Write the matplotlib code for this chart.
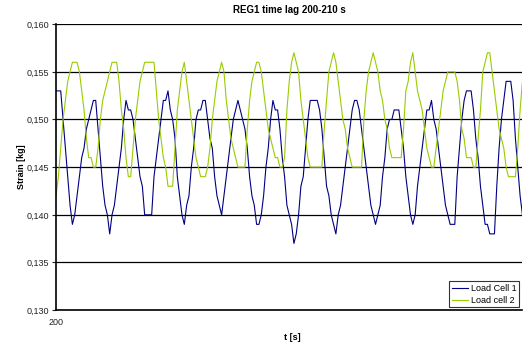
import numpy as np
import matplotlib
matplotlib.use('Agg')
import matplotlib.pyplot as plt
from matplotlib.ticker import FuncFormatter

plt.rcParams['font.family'] = ['Liberation Sans', 'DejaVu Sans']

# strain readings in thousandths of kg, sampled 200-210 s
cell1_g = [153, 153, 153, 150, 147, 144, 141, 139, 140, 142,
           144, 146, 147, 149, 150, 151, 152, 152, 149, 146,
           143, 141, 140, 138, 140, 141, 143, 145, 147, 150,
           152, 151, 151, 150, 148, 146, 144, 143, 140, 140,
           140, 140, 144, 146, 148, 150, 152, 152, 153, 151,
           150, 148, 144, 142, 140, 139, 141, 142, 145, 147,
           150, 151, 151, 152, 152, 150, 148, 147, 144, 142,
           141, 140, 142, 144, 146, 148, 150, 151, 152, 151,
           150, 149, 147, 144, 142, 141, 139, 139, 140, 142,
           145, 147, 150, 152, 151, 151, 149, 146, 144, 141,
           140, 139, 137, 138, 140, 143, 144, 147, 150, 152,
           152, 152, 152, 151, 149, 146, 143, 142, 140, 139,
           138, 140, 141, 143, 145, 147, 149, 151, 152, 152,
           151, 149, 147, 145, 143, 141, 140, 139, 140, 141,
           144, 146, 149, 150, 150, 151, 151, 151, 149, 147,
           144, 142, 140, 139, 140, 143, 145, 147, 149, 151,
           151, 152, 150, 149, 147, 145, 143, 141, 140, 139,
           139, 139, 144, 147, 150, 152, 153, 153, 153, 151,
           148, 146, 143, 141, 139, 139, 138, 138, 138, 143,
           147, 150, 152, 154, 154, 154, 152, 148, 145, 142,
           140]

cell2_g = [142, 144, 147, 150, 152, 154, 155, 156, 156, 156,
           155, 153, 151, 148, 146, 146, 145, 145, 147, 150,
           152, 153, 154, 155, 156, 156, 156, 154, 151, 149,
           146, 144, 144, 147, 150, 152, 154, 155, 156, 156,
           156, 156, 156, 153, 150, 148, 146, 145, 143, 143,
           143, 147, 151, 153, 155, 156, 154, 152, 150, 148,
           146, 145, 144, 144, 144, 145, 147, 150, 152, 154,
           155, 156, 155, 152, 150, 148, 147, 146, 145, 145,
           145, 145, 149, 152, 154, 155, 156, 156, 155, 153,
           151, 149, 148, 147, 146, 146, 145, 145, 146, 151,
           154, 156, 157, 156, 155, 152, 150, 148, 146, 145,
           145, 145, 145, 145, 145, 149, 152, 155, 156, 157,
           156, 154, 152, 150, 149, 147, 146, 145, 145, 145,
           145, 145, 150, 153, 155, 156, 157, 156, 155, 153,
           152, 150, 149, 147, 146, 146, 146, 146, 146, 149,
           153, 154, 156, 157, 155, 153, 152, 151, 149, 147,
           146, 145, 145, 147, 149, 151, 153, 154, 155, 155,
           155, 155, 154, 152, 149, 148, 146, 146, 146, 145,
           145, 148, 151, 155, 156, 157, 157, 155, 153, 151,
           149, 148, 147, 145, 144, 144, 144, 144, 147, 151,
           154]

cell1 = np.array(cell1_g) / 1000
cell2 = np.array(cell2_g) / 1000
t = np.linspace(200, 210, len(cell1))

y_ticks = [0.130, 0.135, 0.140, 0.145, 0.150, 0.155, 0.160]

fig = plt.figure(figsize=(5.24, 3.45), dpi=100)
ax = fig.add_axes([0.107, 0.101, 0.890, 0.829])

ax.plot(t, cell1, color='#000080', lw=0.8, label='Load Cell 1')
ax.plot(t, cell2, color='#99CC00', lw=0.8, label='Load cell 2')

ax.set_xlim(200, 210)
ax.set_ylim(0.130, 0.160)
ax.set_yticks(y_ticks)
ax.yaxis.set_major_formatter(FuncFormatter(lambda v, p: f'{v:.3f}'.replace('.', ',')))
ax.set_xticks([200])
ax.set_xticklabels(['200'])
ax.tick_params(axis='y', labelsize=6.5, length=3, width=0.8, pad=2, colors='#222222')
ax.tick_params(axis='x', labelsize=6.5, length=0, pad=6, colors='#222222')
ax.grid(axis='y', color='black', lw=0.9)
ax.set_axisbelow(True)

for s in ['top', 'right']:
    ax.spines[s].set_visible(False)
ax.spines['left'].set_linewidth(1.2)
ax.spines['bottom'].set_linewidth(1.2)

ax.set_title('REG1 time lag 200-210 s', fontsize=7, fontweight='bold', pad=8)
ax.set_ylabel('Strain [kg]', fontsize=6.5, fontweight='bold', labelpad=0)
fig.text(292 / 524, 1 - 338 / 345, 't [s]', fontsize=6.5, fontweight='bold',
         ha='center', va='center')

leg = ax.legend(loc='lower right', fontsize=6.5, frameon=True, fancybox=False,
                edgecolor='black', handlelength=1.8, handletextpad=0.3,
                borderpad=0.3, borderaxespad=0.3,
                bbox_to_anchor=(0.999, 0.0), labelspacing=0.3)
leg.get_frame().set_linewidth(0.8)

fig.savefig('out.png', dpi=100)
